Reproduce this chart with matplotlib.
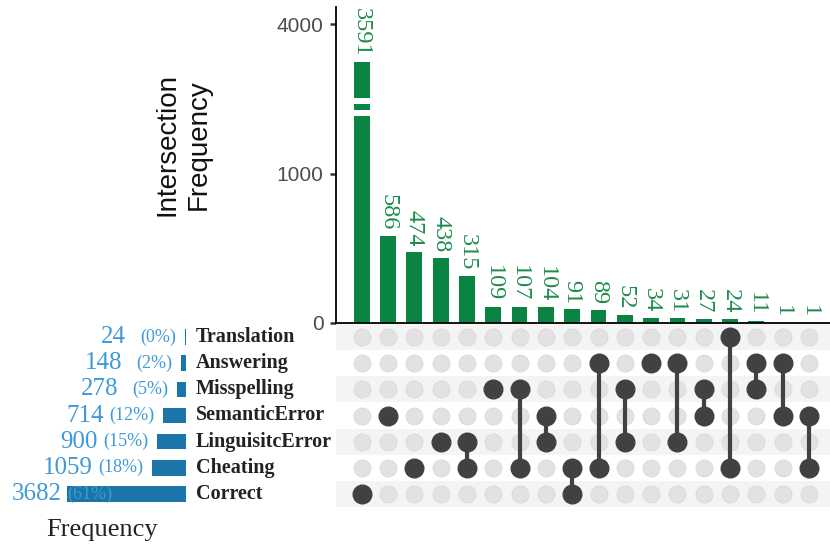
import numpy as np
import matplotlib
matplotlib.use("Agg")
import matplotlib.pyplot as plt

# set names (top to bottom in the matrix) and their sizes
sets = ["Translation", "Answering", "Misspelling", "SemanticError",
        "LinguisitcError", "Cheating", "Correct"]
set_sizes = [24, 148, 278, 714, 900, 1059, 3682]
set_pcts = [0, 2, 5, 12, 15, 18, 61]

# intersections, in bar order
inter_counts = [3591, 586, 474, 438, 315, 109, 107, 104, 91, 89, 52, 34, 31, 27, 24, 11, 1, 1]
inter_members = [
    ["Correct"], ["SemanticError"], ["Cheating"], ["LinguisitcError"],
    ["LinguisitcError", "Cheating"], ["Misspelling"], ["Misspelling", "Cheating"],
    ["SemanticError", "LinguisitcError"], ["Cheating", "Correct"],
    ["Answering", "Cheating"], ["Misspelling", "LinguisitcError"], ["Answering"],
    ["Answering", "LinguisitcError"], ["Misspelling", "SemanticError"],
    ["Translation", "Cheating"], ["Answering", "Misspelling"],
    ["Answering", "SemanticError"], ["SemanticError", "Cheating"],
]
y_ticks = [0, 1000, 4000]

GREEN = "#0a8442"
GREEN_TXT = "#1e8c4e"
BLUE = "#1b75a8"
BLUE_TXT = "#3d9ad6"
DARK = "#404143"
LIGHT = "#e2e2e3"
SERIF = "Liberation Serif"
SANS = "Liberation Sans"

# compressed upper part of the count axis
C = 1003 / 9e6


def fwd(v):
    v = np.asarray(v, dtype=float)
    return np.where(v <= 1000, v, 1000 + C * np.clip(v - 1000, 0, None) ** 2)


def inv(u):
    u = np.asarray(u, dtype=float)
    return np.where(u <= 1000, u, 1000 + np.sqrt(np.clip(u - 1000, 0, None) / C))


W, H = 830, 544
fig = plt.figure(figsize=(W / 100, H / 100), dpi=100)


def frac(x0, y0, x1, y1):
    return [x0 / W, 1 - y1 / H, (x1 - x0) / W, (y1 - y0) / H]


ax_bar = fig.add_axes(frac(336, 7, 830, 323))
ax_mat = fig.add_axes(frac(336, 324, 830, 507))
ax_set = fig.add_axes(frac(12, 324, 186, 507))

n = len(inter_counts)
xs = np.arange(n)
xlim = (-0.98, n - 1 + 0.8)

# ---- intersection bars
ax_bar.set_yscale("function", functions=(fwd, inv))
ax_bar.bar(xs, inter_counts, width=0.6, color=GREEN, zorder=2)
# break marks on the tall bar
for lo, hi in [(2861, 2957), (3047, 3133)]:
    ax_bar.fill_between([-0.35, 0.35], lo, hi, color="white", zorder=3, linewidth=0)
for x, c in zip(xs, inter_counts):
    ax_bar.annotate(str(c), (x, c), xytext=(0, 4), textcoords="offset points",
                    rotation=270, ha="center", va="bottom", fontsize=17.5,
                    family=SERIF, color=GREEN_TXT)
ax_bar.set_xlim(*xlim)
ax_bar.set_ylim(0, 4170)
ax_bar.set_yticks(y_ticks)
ax_bar.set_yticklabels([str(t) for t in y_ticks], family=SANS, fontsize=15, color="#4d4d4d")
ax_bar.tick_params(axis="y", length=4, width=1.8, color="#333333", pad=5)
ax_bar.set_xticks([])
for s in ["top", "right"]:
    ax_bar.spines[s].set_visible(False)
ax_bar.spines["left"].set_linewidth(1.3)
ax_bar.spines["bottom"].set_linewidth(1.3)

fig.text(183 / W, 1 - 145 / H, "Intersection\nFrequency", rotation=90,
         ha="center", va="center", multialignment="center", linespacing=1.3,
         family=SANS, fontsize=20, color="#111111")

# ---- matrix
m = len(sets)
for i in range(m):
    if i % 2 == 0:
        ax_mat.axhspan(m - 1 - i - 0.5, m - 1 - i + 0.5, color="#f4f4f4", lw=0, zorder=0)
for x, mem in zip(xs, inter_members):
    rows = [m - 1 - sets.index(s) for s in mem]
    ax_mat.scatter([x] * m, np.arange(m), s=150, color=LIGHT, edgecolor="#d9d9da",
                   linewidth=0.6, zorder=2)
    if len(rows) > 1:
        ax_mat.plot([x, x], [min(rows), max(rows)], color=DARK, lw=3, zorder=3,
                    solid_capstyle="butt")
    ax_mat.scatter([x] * len(rows), rows, s=180, color=DARK, zorder=4)
ax_mat.set_xlim(*xlim)
ax_mat.set_ylim(-0.5, m - 0.5)
ax_mat.axis("off")

# ---- set sizes
ys = [m - 1 - i for i in range(m)]
ax_set.barh(ys, set_sizes, height=0.6, color=BLUE)
ax_set.set_xlim(5390, 0)
ax_set.set_ylim(-0.5, m - 0.5)
ax_set.axis("off")

pairs = []
for y, v, p, name in zip(ys, set_sizes, set_pcts, sets):
    num = ax_set.annotate(str(v), (v, y), xytext=(-42.5, 0), textcoords="offset points",
                          ha="right", va="center", family=SERIF, fontsize=18, color=BLUE_TXT)
    pct = ax_set.annotate(f"({p}%)", (v, y), xytext=(-6.5, 0), textcoords="offset points",
                          ha="right", va="center", family=SERIF, fontsize=13, color=BLUE_TXT)
    pairs.append((num, pct))
    ax_set.annotate(name, (0, y), xytext=(7, 0), textcoords="offset points",
                    ha="left", va="center", family=SERIF, fontsize=14.5,
                    fontweight="bold", color="#222222")

fig.text(102 / W, 1 - 530 / H, "Frequency", ha="center", va="center",
         family=SERIF, fontsize=19, color="#222222")

# keep labels inside the left panel
fig.canvas.draw()
r = fig.canvas.get_renderer()
left = ax_set.bbox.x0
for num, pct in pairs:
    bb = num.get_window_extent(r)
    if bb.x0 < left:
        d = (left - bb.x0) * 72 / fig.dpi
        num.xyann = (num.xyann[0] + d, 0)
        pct.xyann = (pct.xyann[0] + d, 0)

fig.savefig("out.png", dpi=100)
